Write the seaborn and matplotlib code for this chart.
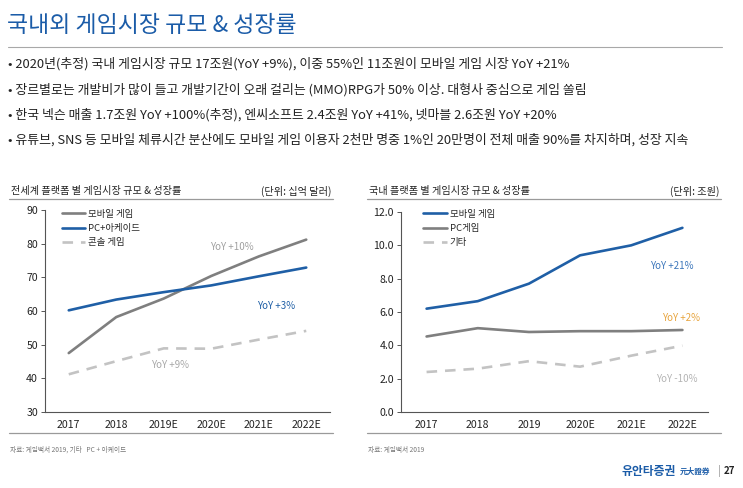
import matplotlib
matplotlib.use("Agg")
import matplotlib.pyplot as plt
import seaborn as sns
import pandas as pd
from matplotlib.lines import Line2D

sns.set_theme(style="white")
plt.rcParams['font.family'] = ['Noto Sans CJK KR', 'DejaVu Sans']

# global market (billion USD)
years_world = ['2017', '2018', '2019E', '2020E', '2021E', '2022E']
world_mobile = [47.5, 58.2, 63.7, 70.4, 76.2, 81.2]
world_pc = [60.2, 63.4, 65.6, 67.6, 70.3, 72.9]
world_console = [41.2, 45.1, 48.9, 48.8, 51.5, 54.1]

# domestic market (trillion KRW)
years_kr = ['2017', '2018', '2019', '2020E', '2021E', '2022E']
kr_mobile = [6.2, 6.65, 7.7, 9.4, 10.0, 11.05]
kr_pc = [4.53, 5.03, 4.8, 4.85, 4.85, 4.92]
kr_other = [2.4, 2.6, 3.05, 2.72, 3.38, 3.98]

bullets = [
    '2020년(추정) 국내 게임시장 규모 17조원(YoY +9%), 이중 55%인 11조원이 모바일 게임 시장 YoY +21%',
    '장르별로는 개발비가 많이 들고 개발기간이 오래 걸리는 (MMO)RPG가 50% 이상. 대형사 중심으로 게임 쏠림',
    '한국 넥슨 매출 1.7조원 YoY +100%(추정), 엔씨소프트 2.4조원 YoY +41%, 넷마블 2.6조원 YoY +20%',
    '유튜브, SNS 등 모바일 체류시간 분산에도 모바일 게임 이용자 2천만 명중 1%인 20만명이 전체 매출 90%를 차지하며, 성장 지속',
]

BLUE = '#1f5fa6'
GRAY = '#7f7f7f'
LIGHT = '#c3c3c3'
W, H = 743, 488

fig = plt.figure(figsize=(W / 100, H / 100), dpi=100)
fig.patch.set_facecolor('white')


def fx(px):
    return px / W


def fy(py):
    return 1 - py / H


# header
fig.text(fx(7), fy(25), '국내외 게임시장 규모 & 성장률', fontsize=16.5, color='#1b5ca8',
         va='center', ha='left')
fig.add_artist(Line2D([fx(8), fx(722)], [fy(47), fy(47)], color='#a8a8a8', lw=0.8))
for i, b in enumerate(bullets):
    fig.text(fx(8), fy(64 + i * 25.3), '• ' + b, fontsize=9.3, color='#222222',
             va='center', ha='left')


def draw_panel(rect, years, series, ylim, yticks, yfmt, title, unit, line_x, source, notes, leg_pos):
    ax = fig.add_axes(rect)
    for vals, lab, col, dash in series:
        df = pd.DataFrame({'year': years, 'value': vals})
        sns.lineplot(data=df, x='year', y='value', ax=ax, color=col, lw=1.9,
                     label=lab, sort=False)
        if dash:
            ax.lines[-1].set_dashes([4, 3])
    ax.set_xlim(-0.5, 5.5)
    ax.set_ylim(*ylim)
    ax.set_yticks(yticks)
    ax.set_yticklabels([yfmt.format(t) for t in yticks])
    ax.set_xlabel('')
    ax.set_ylabel('')
    for s in ['top', 'right']:
        ax.spines[s].set_visible(False)
    for s in ['left', 'bottom']:
        ax.spines[s].set_color('#555555')
        ax.spines[s].set_linewidth(0.8)
    ax.tick_params(axis='y', length=3, width=0.7, color='#555555', labelsize=7.6,
                   labelcolor='#222222', pad=2, left=True)
    ax.tick_params(axis='x', length=0, labelsize=7.6, labelcolor='#222222', pad=6)
    ax.set_facecolor('white')
    ax.grid(False)
    leg = ax.legend(loc='upper left', bbox_to_anchor=leg_pos, frameon=False,
                    fontsize=6.8, handlelength=2.5, labelspacing=0.55,
                    handletextpad=0.3, borderaxespad=0)
    for h in leg.get_lines():
        h.set_linewidth(1.9)
    for txt, x, y, col in notes:
        fig.text(fx(x), fy(y), txt, fontsize=7, color=col, ha='center', va='center')
    x0, x1 = line_x
    fig.text(fx(x0 + 2), fy(191), title, fontsize=7.3, color='#222222', va='center')
    fig.text(fx(x1 - 2), fy(191), unit, fontsize=7.3, color='#222222', va='center', ha='right')
    fig.add_artist(Line2D([fx(x0), fx(x1)], [fy(199), fy(199)], color='#9a9a9a', lw=0.9))
    fig.add_artist(Line2D([fx(x0), fx(x1)], [fy(433), fy(433)], color='#9a9a9a', lw=0.9))
    fig.text(fx(x0 + 1), fy(450), source, fontsize=4.8, color='#777777', va='center')
    return ax


draw_panel([fx(45), fy(412), fx(330) - fx(45), fy(210) - fy(412)], years_world,
           [(world_mobile, '모바일 게임', GRAY, False),
            (world_pc, 'PC+아케이드', BLUE, False),
            (world_console, '콘솔 게임', LIGHT, True)],
           (30, 90), list(range(30, 91, 10)), '{:d}',
           '전세계 플랫폼 별 게임시장 규모 & 성장률', '(단위: 십억 달러)', (9, 333),
           '자료: 게임백서 2019, 기타   PC + 아케이드',
           [('YoY +10%', 232, 247, '#a0a0a0'), ('YoY +3%', 276, 306, BLUE),
            ('YoY +9%', 170, 365, '#a8a8a8')],
           (0.045, 1.02))

draw_panel([fx(401), fy(412), fx(708) - fx(401), fy(212) - fy(412)], years_kr,
           [(kr_mobile, '모바일 게임', BLUE, False),
            (kr_pc, 'PC게임', GRAY, False),
            (kr_other, '기타', LIGHT, True)],
           (0, 12), [0, 2, 4, 6, 8, 10, 12], '{:.1f}',
           '국내 플랫폼 별 게임시장 규모 & 성장률', '(단위: 조원)', (367, 721),
           '자료: 게임백서 2019',
           [('YoY +21%', 672, 266, '#3d77bb'), ('YoY +2%', 681, 318, '#e8a53f'),
            ('YoY -10%', 677, 379, '#b5b5b5')],
           (0.06, 1.03))

# footer logo text
fig.text(fx(622), fy(471), '유안타증권', fontsize=8.5, color='#1b5ca8', va='center', weight='bold')
fig.text(fx(680), fy(471), '元大證券', fontsize=5.5, color='#1b5ca8', va='center', weight='bold')
fig.text(fx(718), fy(471), '|', fontsize=7, color='#888888', va='center')
fig.text(fx(724), fy(471), '27', fontsize=7, color='#222222', va='center', weight='bold')

fig.savefig('out.png', dpi=100, facecolor='white')
